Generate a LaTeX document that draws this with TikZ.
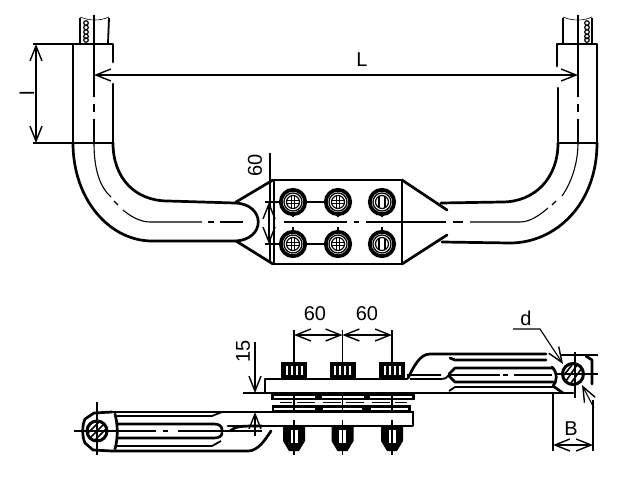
\documentclass[tikz,border=0pt]{standalone}
\usepackage{fontspec}
\setmainfont{Liberation Sans}
\usetikzlibrary{arrows.meta}
\tikzset{
  heavy/.style={line width=2.7pt,line cap=round,line join=round},
  medium/.style={line width=1.8pt},
  thin line/.style={line width=1.1pt},
  dimline/.style={line width=1.1pt},
  barb/.style={{Straight Barb[length=15pt,width=12pt,line width=1.4pt]}-{Straight Barb[length=15pt,width=12pt,line width=1.4pt]}},
  barbend/.style={-{Straight Barb[length=15pt,width=12pt,line width=1.4pt]}},
  dimtext/.style={font=\fontsize{20}{20}\selectfont,inner sep=0pt},
}
\begin{document}
\begin{tikzpicture}[x=1pt,y=-1pt]
\useasboundingbox (0,0) rectangle (622,477);
\fill[white] (0,0) rectangle (622,477);

% ---------- top view: left terminal
\draw[medium] (80,43) -- (80,18) (108,43) -- (109,18);
\draw[line width=0.6pt] (80,17) .. controls (90,21) and (100,21) .. (109,17);
\foreach \yy in {23,27.5,32,36.5,40}{\draw[line width=1.2pt] (86,\yy) circle (2.3pt);}
\draw[heavy] (113,62) -- (113,44) -- (73,44) -- (73,143);
\draw[heavy] (113,84) -- (113,143);
\draw[heavy] (73,143) -- (113,143);
\draw[heavy] (73,143) .. controls (73,200) and (110,241) .. (152,241) -- (235,241);
\draw[heavy] (113,143) .. controls (113,178) and (135,201) .. (168,201) -- (235,203);
\draw[heavy] (235,203) .. controls (266,204) and (266,240) .. (235,241);
\draw[thin line] (94,15) -- (94,97) (94,104) -- (94,112) (94,119) -- (94,143);
\draw[thin line] (94,143) .. controls (94,170) and (100,187) .. (111,197);
\draw[thin line] (114,201) -- (118,205) (123,210) .. controls (130,216) and (140,222) .. (150,222) -- (202,222);
\draw[thin line] (208,222) -- (214,222) (220,222) -- (243,222);

% ---------- top view: right terminal
\draw[medium] (563,43) -- (563,18) (592,43) -- (592,18);
\draw[line width=0.6pt] (563,17) .. controls (572,21) and (584,21) .. (592,17);
\foreach \yy in {23,27.5,32,36.5,40}{\draw[line width=1.2pt] (587,\yy) circle (2.3pt);}
\draw[heavy] (557,66) -- (557,44) -- (597,44) -- (597,143);
\draw[heavy] (558,88) -- (558,143);
\draw[heavy] (558,143) -- (597,143);
\draw[heavy] (597,143) .. controls (597,205) and (555,243) .. (510,243) -- (442,242);
\draw[heavy] (558,143) .. controls (558,178) and (535,202) .. (502,202) -- (441,203);
\draw[thin line] (578,15) -- (578,97) (578,104) -- (578,112) (578,119) -- (578,143);
\draw[thin line] (578,143) .. controls (578,165) and (570,185) .. (562,196);
\draw[thin line] (556,201) -- (552,205) (548,208) .. controls (540,215) and (530,222) .. (520,222) -- (470,222);
\draw[thin line] (453,222) -- (463,222) (402,222) -- (446,222);

% ---------- top view: plate
\draw[heavy] (274,180) rectangle (402,264);
\draw[medium] (270,181) -- (270,207) (270,237) -- (270,263);
\draw[heavy] (273,180) -- (236,202) (273,264) -- (236,241);
\draw[heavy] (402,180) -- (447,210) (402,264) -- (447,235);
\draw[thin line] (284,222) -- (347,222) (354,222) -- (359,222) (366,222) -- (402,222);
\draw[thin line] (293,202) -- (338,202) (293,244) -- (338,244);
\foreach \xx in {293,338,382}{
  \draw[thin line] (\xx,212) -- (\xx,217) (\xx,227) -- (\xx,234);
  \foreach \yy in {202,244}{
    \filldraw[fill=white,line width=3.8pt] (\xx,\yy) circle (12.2pt);
    \draw[line width=1.2pt] (\xx,\yy) circle (9pt);
    \draw[line width=1.2pt] (\xx,\yy) circle (6.5pt);
  }
}
\foreach \xx in {293,338}{\foreach \yy in {202,244}{
  \draw[line width=1.1pt] (\xx-6,\yy-1.5) -- (\xx+6,\yy-1.5) (\xx-6,\yy+1.5) -- (\xx+6,\yy+1.5)
    (\xx-1.5,\yy-6) -- (\xx-1.5,\yy+6) (\xx+1.5,\yy-6) -- (\xx+1.5,\yy+6);
}}
\foreach \yy in {202,244}{
  \draw[line width=1.2pt] (379,\yy-6) -- (379,\yy+6) (385,\yy-6) -- (385,\yy+6);
}

% ---------- top view: dimensions
\coordinate (lTop) at (36,44);
\coordinate (lBot) at (36,143);
\draw[dimline] (33,44) -- (73,44) (33,143) -- (73,143);
\draw[dimline,barb] (lTop) -- (lBot);
\node[dimtext,rotate=90] (ltext) at (27,93) {l};
\coordinate (LLeft) at (94,75);
\coordinate (LRight) at (578,75);
\draw[dimline,barb] (LLeft) -- (LRight);
\node[dimtext] (Ltext) at (362,60) {L};
\draw[dimline] (270,153) -- (270,181);
\draw[dimline] (265,202) -- (282,202) (265,244) -- (282,244);
\coordinate (sTop) at (269,202);
\coordinate (sBot) at (269,244);
\draw[dimline,barb] (sTop) -- (sBot);
\node[dimtext,rotate=90] (sixtyA) at (255,165) {60};

% ---------- side view: lower lug (left)
\draw[heavy] (112,412) -- (413,412);
\draw[heavy] (228,426) -- (413,426) -- (413,412);
\draw[heavy] (112,451) -- (248,451) .. controls (258,451) and (265,440) .. (271,431);
\draw[heavy] (230,431) .. controls (236,426) and (240,426) .. (262,426);
\draw[heavy] (117,424) -- (214,424) .. controls (219,424) and (222,426) .. (222,430);
\draw[heavy] (117,438) -- (214,438) .. controls (219,438) and (222,436) .. (222,433);
\draw[medium] (117,416) -- (212,416) -- (222,412);
\draw[medium] (117,446) -- (212,446) -- (221,441);
\draw[heavy] (112,412) -- (94,413) -- (85,419) .. controls (82,425) and (82,437) .. (85,443) -- (93,450) -- (112,451);
\draw[heavy] (115,414) .. controls (118,425) and (118,438) .. (115,449);
\filldraw[fill=white,line width=3pt] (97,431) circle (10pt);
\draw[line width=1.6pt] (91,437) -- (103,425) (95,440) -- (106,429) (88,433) -- (99,422);
\draw[thin line] (74,431) -- (116,431) (97,402) -- (97,455);
\draw[thin line] (117,431) -- (156,431) (163,431) -- (168,431) (178,431) -- (262,431);

% ---------- side view: plates, upper lug (right)
\draw[heavy] (407,379) -- (265,379) -- (265,393) -- (573,393);
\draw[heavy] (408,378) .. controls (414,366) and (420,354) .. (430,354) -- (546,354);
\draw[heavy] (450,358) -- (455,360) -- (546,360);
\draw[heavy] (449,374) -- (455,368) -- (553,368);
\draw[heavy] (449,376) -- (455,382) -- (553,382);
\draw[medium] (449,391) -- (455,387) -- (553,387);
\draw[medium] (407,375) -- (441,375) (410,379) -- (441,379) .. controls (446,379) and (447,377) .. (449,375);
\draw[thin line] (450,375) -- (500,375) (503,375) -- (508,375) (514,375) -- (552,375);
\draw[heavy] (552,367) .. controls (558,373) and (557,382) .. (553,386) -- (563,393);
\filldraw[fill=white,line width=3pt] (573,374) circle (10.5pt);
\draw[line width=1.6pt] (566,381) -- (577,365) (571,383) -- (582,368) (564,375) -- (572,365);
\draw[thin line] (555,374) -- (598,374) (575,352) -- (575,398);
\draw[medium] (560,355) -- (598,355);
\draw[heavy] (586,356) -- (592,360) -- (592,384);

% ---------- side view: bolts and washers
\foreach \xx in {294,342.5,392}{
  \fill (\xx-13,362) rectangle (\xx+13,379);
  \foreach \dx in {-7.5,-2.5,2.5,7.5}{\fill[white] (\xx+\dx-1,366) rectangle (\xx+\dx+1,375);}
  \fill (\xx-11,427) -- (\xx-11,441) -- (\xx-5,451) -- (\xx+5,451) -- (\xx+11,441) -- (\xx+11,427) -- cycle;
  \fill[white] (\xx-3.5,430) rectangle (\xx+3.5,443);
  \draw[line width=1.2pt] (\xx,430) -- (\xx,443);
}
% washers: black strips with white slits
\fill (271,393) rectangle (415,400);
\fill (272,405) rectangle (411,412);
\draw[line width=1.7pt] (280,402.5) -- (292,402.5) (297,402.5) -- (315,402.5) (323,402.5) -- (341,402.5) (346,402.5) -- (364,402.5) (372,402.5) -- (390,402.5) (395,402.5) -- (407,402.5);
\foreach \xa/\xb in {274/315,322/364,370/412}{\fill[white] (\xa,396) rectangle (\xb,398);}
\foreach \xa/\xb in {274/315,323/362,371/408}{\fill[white] (\xa,408) rectangle (\xb,410);}
\draw[line width=2.2pt] (318.5,393) -- (318.5,400) (366,393) -- (366,400);
\foreach \xx in {294,342.5,392}{\draw[line width=1.1pt] (\xx,330) -- (\xx,379) (\xx,393) -- (\xx,412) (\xx,420) -- (\xx,427) (\xx,443) -- (\xx,455);}

% ---------- side view: dimensions
\coordinate (aA) at (294,335);
\coordinate (aB) at (342.5,335);
\coordinate (aC) at (392,335);
\draw[dimline,barb] (aA) -- (aB);
\draw[dimline,barb] (aB) -- (aC);
\node[dimtext] (sixtyB) at (315,314) {60};
\node[dimtext] (sixtyC) at (367,314) {60};
\node[dimtext,rotate=90] (fifteen) at (243,351) {15};
\coordinate (fTop) at (255,342);
\coordinate (fMid) at (255,393);
\coordinate (fLow) at (255,436);
\coordinate (fUp) at (255,412);
\draw[dimline,barbend] (fTop) -- (fMid);
\draw[dimline,barbend] (fLow) -- (fUp);
\draw[dimline] (243,393) -- (265,393);
\node[dimtext] (dtext) at (526,318) {d};
\coordinate (dA) at (513,329);
\coordinate (dB) at (540,329);
\coordinate (dC) at (563,364);
\draw[dimline,barbend] (dA) -- (dB) -- (dC);
\coordinate (eA) at (594,408);
\coordinate (eB) at (582,385);
\draw[dimline,barbend] (eA) -- (eB);
\node[dimtext] (btext) at (571,429) {B};
\coordinate (bL) at (553,445);
\coordinate (bR) at (593,445);
\draw[dimline] (553,393) -- (553,451) (593,400) -- (593,451);
\draw[dimline,barb] (bL) -- (bR);
\end{tikzpicture}
\end{document}
